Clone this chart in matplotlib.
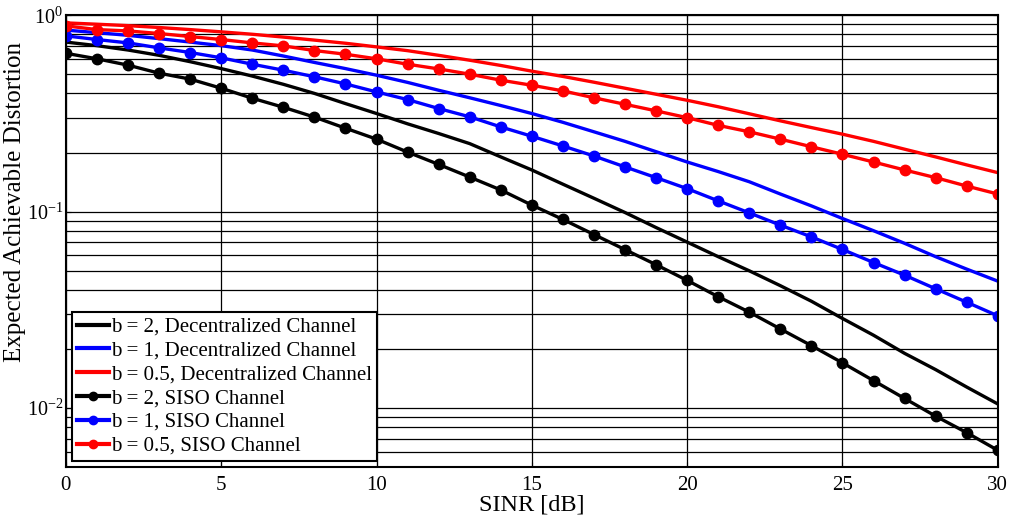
import numpy as np
import matplotlib
matplotlib.use('Agg')
import matplotlib.pyplot as plt
from matplotlib.ticker import LogLocator, NullFormatter

plt.rcParams['font.family'] = ['Liberation Serif', 'DejaVu Serif']
plt.rcParams['mathtext.fontset'] = 'custom'
plt.rcParams['mathtext.rm'] = 'Liberation Serif'
plt.rcParams['mathtext.it'] = 'Liberation Serif:italic'

# SINR values [dB]
sinr = list(range(0, 31))

# Decentralized channel curves
dec_b2 = [0.73, 0.70, 0.665, 0.625, 0.58, 0.535, 0.49, 0.445, 0.40, 0.355, 0.316,
          0.28, 0.25, 0.222, 0.19, 0.163, 0.138, 0.117, 0.099, 0.083, 0.070,
          0.059, 0.050, 0.042, 0.035, 0.0286, 0.0235, 0.019, 0.0157, 0.0128, 0.0105]
dec_b1 = [0.84, 0.815, 0.79, 0.76, 0.73, 0.70, 0.665, 0.62, 0.575, 0.535, 0.495,
          0.455, 0.415, 0.38, 0.347, 0.316, 0.285, 0.255, 0.228, 0.202, 0.179,
          0.16, 0.142, 0.123, 0.107, 0.0923, 0.080, 0.069, 0.059, 0.051, 0.0443]
dec_b05 = [0.914, 0.90, 0.885, 0.866, 0.845, 0.823, 0.80, 0.774, 0.747, 0.72, 0.69,
           0.66, 0.625, 0.59, 0.555, 0.519, 0.488, 0.456, 0.425, 0.396, 0.369,
           0.342, 0.315, 0.29, 0.268, 0.248, 0.228, 0.208, 0.19, 0.173, 0.158]

# SISO channel curves
siso_b2 = [0.64, 0.60, 0.557, 0.507, 0.473, 0.425, 0.378, 0.34, 0.303, 0.266, 0.234,
           0.201, 0.174, 0.150, 0.129, 0.108, 0.0913, 0.0765, 0.0641, 0.0537, 0.0447,
           0.0369, 0.0308, 0.0253, 0.0208, 0.0170, 0.0138, 0.0112, 0.0091, 0.0075, 0.0061]
siso_b1 = [0.785, 0.752, 0.723, 0.682, 0.646, 0.607, 0.563, 0.525, 0.486, 0.447, 0.407,
           0.372, 0.335, 0.304, 0.270, 0.242, 0.216, 0.192, 0.169, 0.149, 0.131,
           0.1135, 0.0986, 0.0854, 0.0744, 0.0642, 0.0551, 0.0475, 0.0405, 0.0346, 0.0295]
siso_b05 = [0.883, 0.845, 0.832, 0.807, 0.779, 0.752, 0.723, 0.698, 0.661, 0.633, 0.600,
            0.563, 0.533, 0.501, 0.467, 0.440, 0.412, 0.380, 0.352, 0.326, 0.301,
            0.275, 0.255, 0.234, 0.214, 0.196, 0.179, 0.163, 0.149, 0.135, 0.123]

fig = plt.figure(figsize=(10.14, 5.25), dpi=100)
ax = fig.add_axes([0.065, 0.110, 0.919, 0.861])

lw = 2.4
ms = 7.5
ax.semilogy(sinr, dec_b2, color='black', lw=lw, label='b = 2, Decentralized Channel')
ax.semilogy(sinr, dec_b1, color='blue', lw=lw, label='b = 1, Decentralized Channel')
ax.semilogy(sinr, dec_b05, color='red', lw=lw, label='b = 0.5, Decentralized Channel')
ax.semilogy(sinr, siso_b2, color='black', lw=lw, marker='o', ms=ms, label='b = 2, SISO Channel')
ax.semilogy(sinr, siso_b1, color='blue', lw=lw, marker='o', ms=ms, label='b = 1, SISO Channel')
ax.semilogy(sinr, siso_b05, color='red', lw=lw, marker='o', ms=ms, label='b = 0.5, SISO Channel')

ax.set_xlim(0, 30)
ax.set_ylim(0.005, 1)
ax.set_xticks([0, 5, 10, 15, 20, 25, 30])
ax.yaxis.set_major_locator(LogLocator(base=10, numticks=10))
ax.yaxis.set_minor_locator(LogLocator(base=10, subs=np.arange(2, 10), numticks=20))
ax.yaxis.set_minor_formatter(NullFormatter())

ax.grid(True, which='major', color='black', lw=0.9)
ax.grid(True, which='minor', axis='y', color='black', lw=0.9)
ax.tick_params(which='both', direction='in', top=True, right=True)
ax.tick_params(axis='x', labelsize=15, pad=6)
ax.tick_params(axis='y', labelsize=14.5, pad=2)
for s in ax.spines.values():
    s.set_linewidth(1.5)

ax.set_xlabel('SINR [dB]', fontsize=17.5, labelpad=0)
ax.set_ylabel('Expected Achievable Distortion', fontsize=18)
ax.yaxis.set_label_coords(-0.043, 0.586)

leg = ax.legend(loc='lower left', fontsize=15, fancybox=False, framealpha=1,
                edgecolor='black', handlelength=1.5, handletextpad=0.1,
                labelspacing=0.2, borderpad=0.25, borderaxespad=0.3)
leg.get_frame().set_linewidth(1.5)
for h in leg.get_lines():
    h.set_linewidth(3)
    h.set_markersize(6)

fig.savefig('out.png', dpi=100)
